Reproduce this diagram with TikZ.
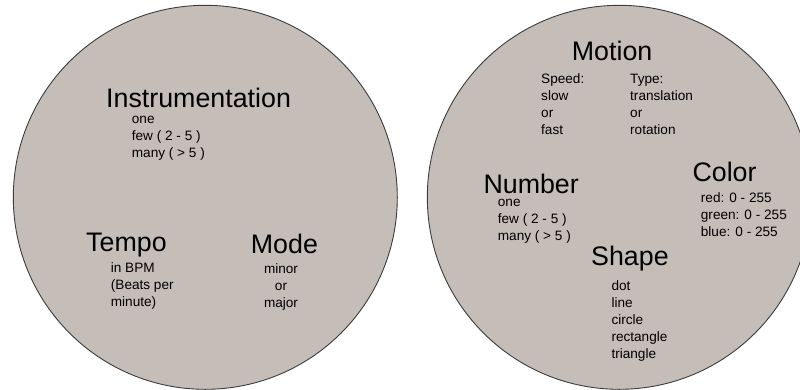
\documentclass[tikz,border=0pt]{standalone}
\usepackage{fontspec}
\setmainfont{Liberation Sans}
\definecolor{discfill}{RGB}{197,189,184}
\definecolor{discline}{RGB}{60,60,60}
\begin{document}
\begin{tikzpicture}[x=1pt,y=-1pt,
  disc/.style={fill=discfill,draw=discline,line width=0.9pt},
  title/.style={font=\fontsize{26.8}{30}\selectfont,anchor=base west,inner sep=0pt},
  items/.style={font=\fontsize{13.6}{17}\selectfont,align=left,anchor=base west,inner sep=0pt},
  citems/.style={font=\fontsize{13.6}{17}\selectfont,align=center,anchor=base,inner sep=0pt}]
\useasboundingbox (0,0) rectangle (800,389);
\clip (0,0) rectangle (800,389);
% discs
\draw[disc] (205.3,197.3) circle[radius=192pt];
\draw[disc] (619.3,197.3) circle[radius=192pt];
% left disc: music (item nodes are anchored at the baseline of their last line)
\node[title] (instr) at (106,107) {Instrumentation};
\node[items] (instrv) at (131.7,157.3) {one\\few ( 2 - 5 )\\many ( > 5 )};
\node[title] (tempo) at (86,251.5) {Tempo};
\node[items] (tempov) at (110.7,306.7) {in BPM\\(Beats per\\minute)};
\node[title] (mode) at (250.7,253) {Mode};
\node[citems] (modev) at (281,307) {minor\\or\\major};
% right disc: visuals
\node[title] (motion) at (571.7,60) {Motion};
\node[items] (speed) at (541,134.3) {Speed:\\slow\\or\\fast};
\node[items] (type) at (630,134.3) {Type:\\translation\\or\\rotation};
\node[title] (number) at (483.3,193.3) {Number};
\node[items] (numberv) at (497.7,240.7) {one\\few ( 2 - 5 )\\many ( > 5 )};
\node[title] (color) at (692.3,181) {Color};
\node[items] (colorv) at (700.7,236) {red: 0 - 255\\green: 0 - 255\\blue: 0 - 255};
\node[title] (shape) at (591,265) {Shape};
\node[items] (shapev) at (611.3,358.7) {dot\\line\\circle\\rectangle\\triangle};
\end{tikzpicture}
\end{document}
